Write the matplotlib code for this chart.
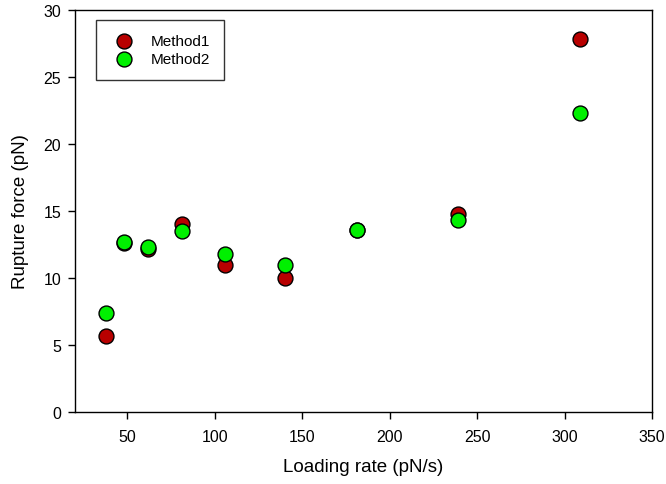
import matplotlib
matplotlib.use("Agg")
import matplotlib.pyplot as plt

# values
loading_rate = [38, 48, 62, 81, 106, 140, 181, 239, 309]
method1 = [5.7, 12.6, 12.2, 14.05, 11.0, 10.0, 13.6, 14.8, 27.8]
method2 = [7.4, 12.65, 12.3, 13.5, 11.8, 11.0, 13.6, 14.3, 22.3]

x_ticks = [50, 100, 150, 200, 250, 300, 350]
y_ticks = [0, 5, 10, 15, 20, 25, 30]

plt.rcParams['font.family'] = ['Liberation Sans', 'DejaVu Sans']

fig = plt.figure(figsize=(6.66, 4.85), dpi=100)
ax = fig.add_axes([75 / 666, 1 - 413 / 485, (652 - 75) / 666, (413 - 11) / 485])

ax.scatter(loading_rate, method1, s=115, c='#B80000', edgecolors='black',
           linewidths=1.0, label='Method1', zorder=3)
ax.scatter(loading_rate, method2, s=115, c='#00F000', edgecolors='black',
           linewidths=1.0, label='Method2', zorder=4)

ax.set_xlim(20, 350)
ax.set_ylim(0, 30)
ax.set_xticks(x_ticks)
ax.set_yticks(y_ticks)
ax.tick_params(axis='both', direction='out', length=5, width=1, labelsize=11.5)
ax.tick_params(axis='x', pad=7)
ax.tick_params(axis='y', pad=5)
ax.tick_params(top=False, right=False)
for sp in ax.spines.values():
    sp.set_linewidth(1.0)

ax.set_xlabel('Loading rate (pN/s)', fontsize=13.5, labelpad=10)
ax.set_ylabel('Rupture force (pN)', fontsize=13.5, labelpad=10)

leg = ax.legend(loc='upper left', bbox_to_anchor=(21 / 577, 1 - 10 / 402),
                fontsize=11, frameon=True, fancybox=False, borderpad=0.9,
                handlelength=1.8, handletextpad=0.9, labelspacing=0.3,
                borderaxespad=0, scatterpoints=1, markerscale=1.0)
leg.get_frame().set_edgecolor('black')
leg.get_frame().set_linewidth(1.0)

fig.savefig('out.png', dpi=100)
